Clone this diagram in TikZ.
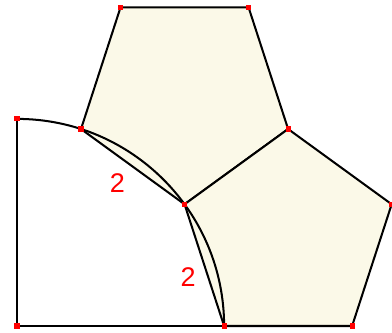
\documentclass[tikz,border=0pt]{standalone}
\usepackage{fontspec}
\usepackage{tikz}
\usetikzlibrary{calc}
\newfontfamily\labfont{Liberation Sans}

\begin{document}
\begin{tikzpicture}[x=1cm, y=1cm, line width=0.9pt, line join=round,
  pent/.style={draw=black, fill=cream},
  rim/.style={draw=black},
  vmark/.style={rectangle, fill=red, draw=none, inner sep=0pt, minimum size=0.8mm},
  lab/.style={text=red, font=\labfont\fontsize{12}{14}\selectfont, inner sep=0pt},
]
\definecolor{cream}{RGB}{251,249,232}
\pgfmathsetmacro{\R}{1+sqrt(5)}
\useasboundingbox (-0.2656,-0.0938) rectangle (5.8594,5.0938);

% ---------------- quarter circle points ----------------
\coordinate (O) at (0,0);
\coordinate (T) at (90:\R);
\coordinate (A) at (72:\R);
\coordinate (B) at (36:\R);
\coordinate (C) at (0:\R);
% ---------------- pentagon corners (side 2) ----------------
\coordinate (P3) at ($(B)+(36:2)$);
\coordinate (P2) at ($(P3)+(108:2)$);
\coordinate (P1) at ($(P2)+(180:2)$);
\coordinate (P5) at ($(C)+(0:2)$);
\coordinate (P4) at ($(P5)+(72:2)$);

% pentagons
\draw[pent] (A) -- (B) -- (P3) -- (P2) -- (P1) -- cycle;
\draw[pent] (B) -- (C) -- (P5) -- (P4) -- (P3) -- cycle;
% quarter circle
\draw[rim] (T) -- (O) -- (C);
\draw[rim] (C) arc[start angle=0, end angle=90, radius=\R];

% vertex marks
\foreach \p in {O,T,A,B,C,P1,P2,P3,P4,P5}
  \node[vmark] (m\p) at (\p) {};

% side lengths
\node[lab] (ab) at (1.570,2.234) {2};
\node[lab] (bc) at (2.672,0.758) {2};
\end{tikzpicture}
\end{document}
